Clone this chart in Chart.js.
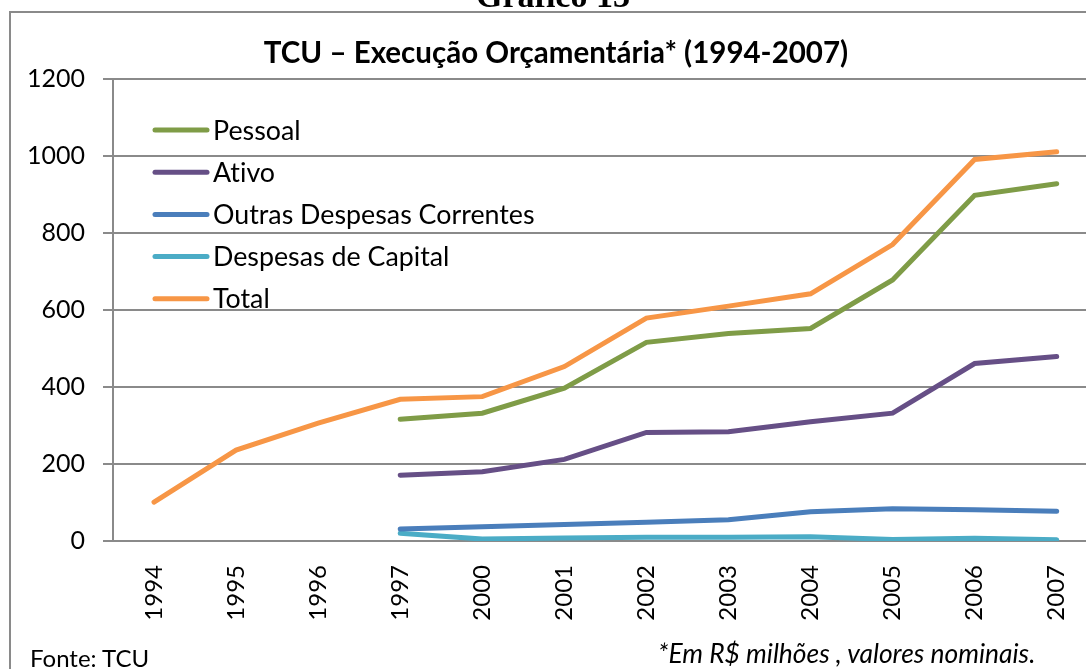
<!DOCTYPE html>
<html>
<head>
<meta charset="utf-8">
<script src="https://cdn.jsdelivr.net/npm/chart.js@4"></script>
<style>
  html, body { margin: 0; padding: 0; width: 1086px; height: 669px; overflow: hidden; background: #fff; }
  #wrap { position: relative; width: 1086px; height: 669px; overflow: hidden; }
  #frame { position: absolute; left: 9px; top: 11px; width: 1200px; height: 700px; border: 2px solid #8a8a8a; box-sizing: border-box; }
  #cv { position: absolute; left: 0; top: 0; }
  .txt { position: absolute; white-space: nowrap; color: #000; line-height: 1; font-variant-ligatures: none; }
  #grafico { font-family: "Liberation Serif", serif; font-weight: bold; font-size: 34px; left: 0; width: 1106px; text-align: center; top: -21px; }
  #title { font-family: Lato, sans-serif; font-weight: bold; font-size: 29.5px; left: 0; width: 1112px; text-align: center; top: 37px; }
  #fonte { font-family: Lato, sans-serif; font-size: 24px; left: 30px; top: 646px; }
  #nota { font-family: Lato, sans-serif; font-style: italic; font-size: 26.4px; left: 658px; top: 640px; }
</style>
</head>
<body>
<div id="wrap">
  <div id="frame"></div>
  <canvas id="cv" width="1110" height="669" style="width:1110px;height:669px"></canvas>
  <div class="txt" id="grafico">Gráfico 13</div>
  <div class="txt" id="title">TCU – Execução Orçamentária* (1994-2007)</div>
  <div class="txt" id="fonte">Fonte: TCU</div>
  <div class="txt" id="nota">*Em R$ milhões , valores nominais.</div>
</div>
<script>
const categories = ["1994","1995","1996","1997","2000","2001","2002","2003","2004","2005","2006","2007"];
const seriesNames = ["Pessoal","Ativo","Outras Despesas Correntes","Despesas de Capital","Total"];
const pessoal  = [null, null, null, 316, 332, 397, 516, 539, 552, 678, 898, 928];
const ativo    = [null, null, null, 171, 180, 212, 282, 284, 310, 332, 461, 479];
const outras   = [null, null, null, 31, 37, 43, 49, 55, 76, 84, 81, 77];
const capital  = [null, null, null, 20, 5, 8, 10, 10, 11, 4, 7, 3];
const total    = [101, 236, 306, 368, 375, 453, 579, 610, 642, 770, 991, 1011];
const yTicks   = [0, 200, 400, 600, 800, 1000, 1200];
const colors   = ["#7F9C47", "#664F86", "#4A7EBB", "#4BACC6", "#F79646"];

const seriesData = [pessoal, ativo, outras, capital, total];

const legendPlugin = {
  id: 'customLegend',
  afterDraw(chart) {
    const ctx = chart.ctx;
    ctx.save();
    ctx.font = '26.8px Lato';
    try { ctx.textRendering = 'optimizeSpeed'; } catch (e) {}
    ctx.textBaseline = 'middle';
    chart.data.datasets.forEach((ds, i) => {
      const y = 130 + i * 42.2;
      ctx.strokeStyle = ds.borderColor;
      ctx.lineWidth = 5;
      ctx.lineCap = 'round';
      ctx.beginPath();
      ctx.moveTo(155, y);
      ctx.lineTo(207, y);
      ctx.stroke();
      ctx.fillStyle = '#000';
      ctx.fillText(ds.label, 213, y + 1);
    });
    ctx.restore();
  }
};

new Chart(document.getElementById('cv'), {
  type: 'line',
  data: {
    labels: categories,
    datasets: seriesNames.map((n, i) => ({
      label: n,
      data: seriesData[i],
      borderColor: colors[i],
      backgroundColor: colors[i],
      borderWidth: 5,
      pointRadius: 0,
      pointHoverRadius: 0,
      tension: 0,
      spanGaps: false,
      borderCapStyle: 'round',
      borderJoinStyle: 'miter'
    }))
  },
  options: {
    responsive: false,
    animation: false,
    layout: { padding: { left: 0, right: 12, top: 79, bottom: 0 } },
    plugins: { legend: { display: false }, title: { display: false }, tooltip: { enabled: false } },
    scales: {
      x: {
        offset: true,
        grid: { display: false, drawTicks: false },
        border: { display: true, color: '#8a8a8a', width: 2 },
        ticks: { color: '#000', font: { family: 'Lato', size: 24 }, minRotation: 90, maxRotation: 90, padding: 24, autoSkip: false },
        afterFit(s) { s.height = 128; }
      },
      y: {
        min: 0, max: 1200,
        afterBuildTicks(s) { s.ticks = yTicks.map(v => ({ value: v })); },
        grid: { color: '#8a8a8a', lineWidth: 2, tickLength: 10, drawTicks: true },
        border: { display: true, color: '#8a8a8a', width: 2 },
        ticks: { color: '#000', font: { family: 'Lato', size: 25 }, padding: 18, callback: v => String(v) },
        afterFit(s) { s.width = 113; }
      }
    }
  },
  plugins: [legendPlugin]
});
</script>
</body>
</html>
